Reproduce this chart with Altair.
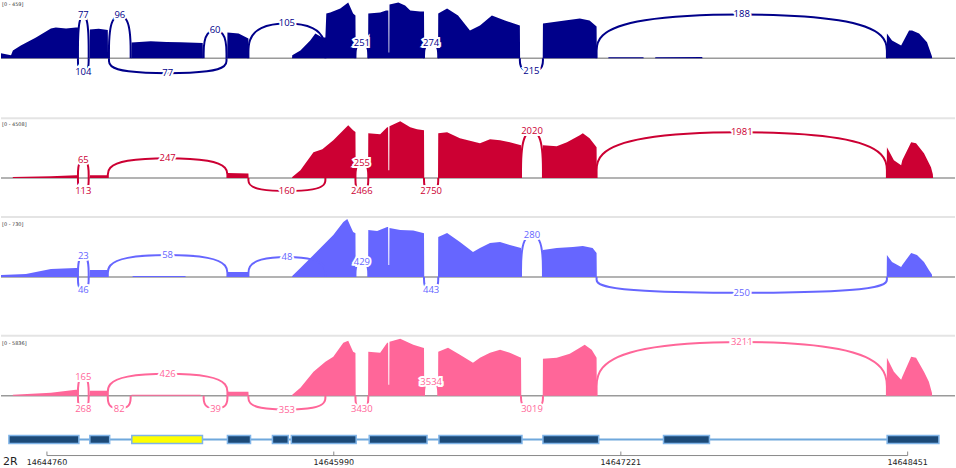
import altair as alt
import pandas as pd

# ---------------- data ----------------
START = 14644563          # genomic coordinate at the left edge of the view
END = 14648654            # genomic coordinate at the right edge of the view
CHROM = "2R"
TICKS = [14644760, 14645990, 14647221, 14648451]

SCALE_MAX = [459, 4508, 730, 5836]
COLORS = ["#00008a", "#cc0033", "#6666ff", "#ff6699"]

# coverage segments: (offset from START in bp, read depth)
COV1 = [
    [(0, 40), (43, 24), (51, 63), (85, 103), (150, 166), (214, 237), (235, 245), (279, 237), (321, 245), (330, 245)],
    [(381, 229), (419, 235), (458, 225)],
    [(560, 125), (642, 135), (710, 130), (770, 128), (865, 122)],
    [(971, 206), (1019, 198), (1061, 158)],
    [(1249, 24), (1284, 63), (1326, 142), (1348, 198), (1378, 166), (1391, 166), (1395, 356), (1412, 364),
     (1455, 396), (1489, 443), (1510, 356), (1520, 340)],
    [(1575, 356), (1626, 364), (1651, 380), (1661, 380), (1662, 47), (1665, 47), (1666, 427), (1704, 443),
     (1733, 419), (1755, 380), (1797, 372), (1814, 372)],
    [(1875, 356), (1913, 396), (1960, 340), (2011, 221), (2054, 260), (2105, 340), (2161, 300), (2225, 261)],
    [(2324, 277), (2418, 300), (2482, 316), (2524, 300), (2554, 253)],
    [(2605, 8), (2755, 8)],
    [(2806, 8), (3007, 10)],
    [(3799, 198), (3821, 142), (3860, 103), (3894, 221), (3907, 221), (3937, 198), (3971, 127), (3992, 16)],
]
COV2 = [
    [(51, 80), (214, 155), (321, 230), (330, 230)],
    [(381, 233), (458, 233)],
    [(971, 389), (1061, 350)],
    [(1249, 78), (1284, 622), (1340, 2020), (1378, 2250), (1425, 2953), (1489, 4118), (1510, 3730), (1520, 3600)],
    [(1575, 3497), (1626, 3419), (1656, 3963), (1660, 3963), (1661, 622), (1665, 622), (1666, 4040), (1712, 4429),
     (1755, 3963), (1784, 3807), (1814, 3730)],
    [(1875, 3497), (1913, 3574), (1968, 3108), (2054, 2720), (2097, 3030), (2140, 2953), (2182, 2797), (2230, 2564)],
    [(2324, 2564), (2383, 2486), (2427, 2797), (2482, 3341), (2495, 3497), (2524, 3108), (2554, 2409)],
    [(3799, 2409), (3829, 1399), (3860, 1010), (3865, 1399), (3903, 2797), (3924, 2720), (3958, 1943), (3988, 855),
     (3996, 300)],
]
COV3 = [
    [(0, 25), (107, 37), (214, 99), (321, 111), (330, 111)],
    [(381, 87), (458, 87)],
    [(565, 10), (791, 10)],
    [(971, 62), (1061, 62)],
    [(1249, 12), (1284, 111), (1340, 272), (1391, 421), (1425, 520), (1468, 680), (1485, 717), (1510, 557), (1520, 540)],
    [(1575, 581), (1613, 570), (1656, 619), (1660, 619), (1661, 148), (1665, 148), (1666, 606), (1712, 581),
     (1768, 575), (1810, 544), (1814, 540)],
    [(1875, 495), (1913, 544), (1968, 433), (2024, 309), (2054, 359), (2097, 421), (2140, 433), (2182, 396), (2230, 359)],
    [(2324, 334), (2383, 359), (2452, 371), (2495, 383), (2537, 359), (2554, 297)],
    [(3799, 272), (3821, 186), (3860, 124), (3865, 148), (3903, 297), (3928, 272), (3958, 186), (3979, 87), (3992, 30)],
]
COV4 = [
    [(51, 101), (214, 302), (321, 604), (330, 604)],
    [(381, 503), (458, 503)],
    [(560, 101), (856, 101)],
    [(971, 402), (1061, 402)],
    [(1249, 100), (1284, 805), (1340, 2414), (1391, 3420), (1425, 3923), (1468, 5332), (1489, 5533), (1510, 4426),
     (1520, 4300)],
    [(1575, 4426), (1626, 4325), (1656, 5332), (1660, 5332), (1661, 1107), (1665, 1107), (1666, 5432), (1712, 5734),
     (1768, 5131), (1810, 4829), (1814, 4800)],
    [(1875, 4426), (1917, 4829), (1968, 4125), (2024, 3320), (2054, 3823), (2097, 4326), (2140, 4628), (2182, 4326),
     (2230, 3823)],
    [(2324, 3722), (2383, 3823), (2439, 4225), (2482, 4829), (2503, 5131), (2533, 4628), (2554, 3823)],
    [(3799, 3823), (3829, 2414), (3860, 1610), (3865, 1911), (3903, 3923), (3924, 3823), (3958, 2414), (3979, 1408),
     (3992, 300)],
]

# junctions: (start offset, end offset, read count, side: +1 above / -1 below)
JUNC1 = [(330, 376, 77, 1), (330, 376, 104, -1), (463, 556, 96, 1), (463, 967, 77, -1), (869, 967, 60, 1),
         (1061, 1391, 105, 1), (1520, 1575, 251, 1), (1814, 1875, 274, 1), (2225, 2324, 215, -1),
         (2554, 3799, 188, 1)]
JUNC2 = [(330, 376, 65, 1), (330, 376, 113, -1), (458, 971, 247, 1), (1061, 1391, 160, -1), (1520, 1575, 255, 1),
         (1520, 1575, 2466, -1), (1814, 1875, 2750, -1), (2230, 2324, 2020, 1), (2554, 3799, 1981, 1)]
JUNC3 = [(330, 376, 23, 1), (330, 376, 46, -1), (458, 971, 58, 1), (1061, 1391, 48, 1), (1520, 1575, 429, 1),
         (1814, 1875, 443, -1), (2230, 2324, 280, 1), (2554, 3799, 250, -1)]
JUNC4 = [(330, 376, 165, 1), (330, 376, 268, -1), (458, 971, 426, 1), (458, 556, 82, -1), (869, 971, 39, -1),
         (1061, 1391, 353, -1), (1520, 1575, 3430, -1), (1814, 1875, 3534, 1), (2230, 2324, 3019, -1),
         (2554, 3799, 3211, 1)]

# gene model exons (offsets from START); the third is highlighted
EXONS = [(34, 334), (381, 466), (561, 864), (971, 1070), (1164, 1232), (1245, 1523), (1579, 1827),
         (1878, 2234), (2324, 2563), (2841, 3038), (3800, 4022)]
HIGHLIGHT = 2

# ---------------- layout / style ----------------
PANEL_H = [117, 99, 119, 90]     # panel heights in px
BASE_T = [58, 61, 61, 61]        # baseline distance from the panel top
DATA_PX = [58, 58, 59, 58]       # px spanned by the data range
LABEL_Y = [4, 7, 8, 8]
ARC_LIFT = [
    [43, 14, 43, 15, 28, 35, 15, 15, 13, 44],
    [18, 13, 20, 13, 15, 13, 13, 47, 46],
    [21, 13, 22, 20, 15, 13, 42, 16],
    [19, 13, 22, 13, 13, 14, 13, 14, 13, 54],
]
FONT = "Open Sans"

xscale = alt.Scale(domain=[START, END], nice=False, zero=False)


def cov_frame(segs):
    rows = []
    for seg in segs:
        rows.append((START + seg[0][0] - 1, 0))
        for off, v in seg:
            rows.append((START + off, v))
        rows.append((START + seg[-1][0] + 1, 0))
    return pd.DataFrame(rows, columns=["pos", "cov"])


def panel(i, segs, juncs):
    color = COLORS[i]
    mx = SCALE_MAX[i]
    unit = mx / DATA_PX[i]
    H, T = PANEL_H[i], BASE_T[i]
    ydom = [-(H - T) * unit, T * unit]
    yscale = alt.Scale(domain=ydom, nice=False, zero=False)

    cov = cov_frame(segs)
    arcs, labs = [], []
    for j, ((s, e, c, side), lift) in enumerate(zip(juncs, ARC_LIFT[i])):
        h = side * lift * 1.04 * unit
        for k, (p, y) in enumerate([(s, 0), (s, h), (e, h), (e, 0)]):
            arcs.append((j, START + p, y, k))
        labs.append((START + (s + e) / 2, side * lift * unit, str(c)))
    arcs = pd.DataFrame(arcs, columns=["jid", "pos", "y", "k"])
    labs = pd.DataFrame(labs, columns=["pos", "y", "txt"])

    base = alt.Chart(pd.DataFrame({"z": [0]})).mark_rule(color="#9a9a9a", strokeWidth=1.5).encode(
        y=alt.Y("z:Q", scale=yscale, axis=None))
    area = alt.Chart(cov).mark_area(color=color, interpolate="linear", clip=True).encode(
        x=alt.X("pos:Q", scale=xscale, axis=None),
        y=alt.Y("cov:Q", scale=yscale, axis=None, stack=None),
        y2=alt.datum(0))
    arc = alt.Chart(arcs).mark_line(color=color, strokeWidth=2, interpolate="basis", clip=True).encode(
        x=alt.X("pos:Q", scale=xscale, axis=None),
        y=alt.Y("y:Q", scale=yscale, axis=None),
        detail="jid:N", order="k:Q")
    halo = alt.Chart(labs).mark_text(font=FONT, fontSize=9.5, color="white", stroke="white",
                                     strokeWidth=4, baseline="middle").encode(
        x=alt.X("pos:Q", scale=xscale, axis=None),
        y=alt.Y("y:Q", scale=yscale, axis=None), text="txt:N")
    text = alt.Chart(labs).mark_text(font=FONT, fontSize=9.5, color=color, baseline="middle").encode(
        x=alt.X("pos:Q", scale=xscale, axis=None),
        y=alt.Y("y:Q", scale=yscale, axis=None), text="txt:N")
    rng = alt.Chart(pd.DataFrame({"t": [f"[0 - {mx}]"]})).mark_text(
        font="DejaVu Sans", fontSize=5, color="#333333", align="left", baseline="middle").encode(
        x=alt.value(1), y=alt.value(LABEL_Y[i]), text="t:N")
    layers = [base, area, arc, halo, text, rng]
    if i > 0:
        sep = alt.Chart(pd.DataFrame({"z": [0]})).mark_rule(color="#e4e4e4", strokeWidth=2).encode(
            y=alt.value(1))
        layers.append(sep)
    return alt.layer(*layers).properties(width=956, height=H)


panels = [panel(0, COV1, JUNC1), panel(1, COV2, JUNC2), panel(2, COV3, JUNC3), panel(3, COV4, JUNC4)]

# gene track
ex = pd.DataFrame({
    "s": [START + a for a, b in EXONS],
    "e": [START + b for a, b in EXONS],
    "kind": ["hl" if n == HIGHLIGHT else "exon" for n in range(len(EXONS))],
})
intron = pd.DataFrame({"s": [START + EXONS[0][0]], "e": [START + EXONS[-1][1]]})
intr = alt.Chart(intron).mark_rule(color="#6fa8dc", strokeWidth=2).encode(
    x=alt.X("s:Q", scale=xscale, axis=None), x2="e:Q", y=alt.value(15))
exr = alt.Chart(ex).mark_rect(stroke="#7fb4e8", strokeWidth=1.5).encode(
    x=alt.X("s:Q", scale=xscale, axis=None), x2="e:Q",
    y=alt.value(11), y2=alt.value(19),
    fill=alt.Fill("kind:N", scale=alt.Scale(domain=["exon", "hl"], range=["#1c4a78", "#ffff00"]), legend=None))
gene = alt.layer(intr, exr).properties(width=956, height=25)

# coordinate ruler
tk = pd.DataFrame({"p": TICKS, "lab": [str(t) for t in TICKS]})
span = pd.DataFrame({"a": [TICKS[0]], "b": [TICKS[-1]]})
rline = alt.Chart(span).mark_rule(color="#8a8a8a", strokeWidth=1).encode(
    x=alt.X("a:Q", scale=xscale, axis=None), x2="b:Q", y=alt.value(6))
rtick = alt.Chart(tk).mark_rule(color="#8a8a8a", strokeWidth=1).encode(
    x=alt.X("p:Q", scale=xscale, axis=None), y=alt.value(2), y2=alt.value(6))
rlab = alt.Chart(tk).mark_text(font="DejaVu Sans", fontSize=8, color="#222222", baseline="middle").encode(
    x=alt.X("p:Q", scale=xscale, axis=None), y=alt.value(13), text="lab:N")
chrom = alt.Chart(pd.DataFrame({"c": [CHROM]})).mark_text(
    font="DejaVu Sans", fontSize=11, color="#222222", align="left", baseline="middle").encode(
    x=alt.value(2), y=alt.value(12), text="c:N")
ruler = alt.layer(rline, rtick, rlab, chrom).properties(width=956, height=18)

chart = alt.vconcat(*panels, gene, ruler, spacing=0).properties(
    padding=0, bounds="flush").configure_view(strokeWidth=0).configure_concat(spacing=0)

chart.save("out.html", embed_options={"renderer": "svg", "actions": False})
